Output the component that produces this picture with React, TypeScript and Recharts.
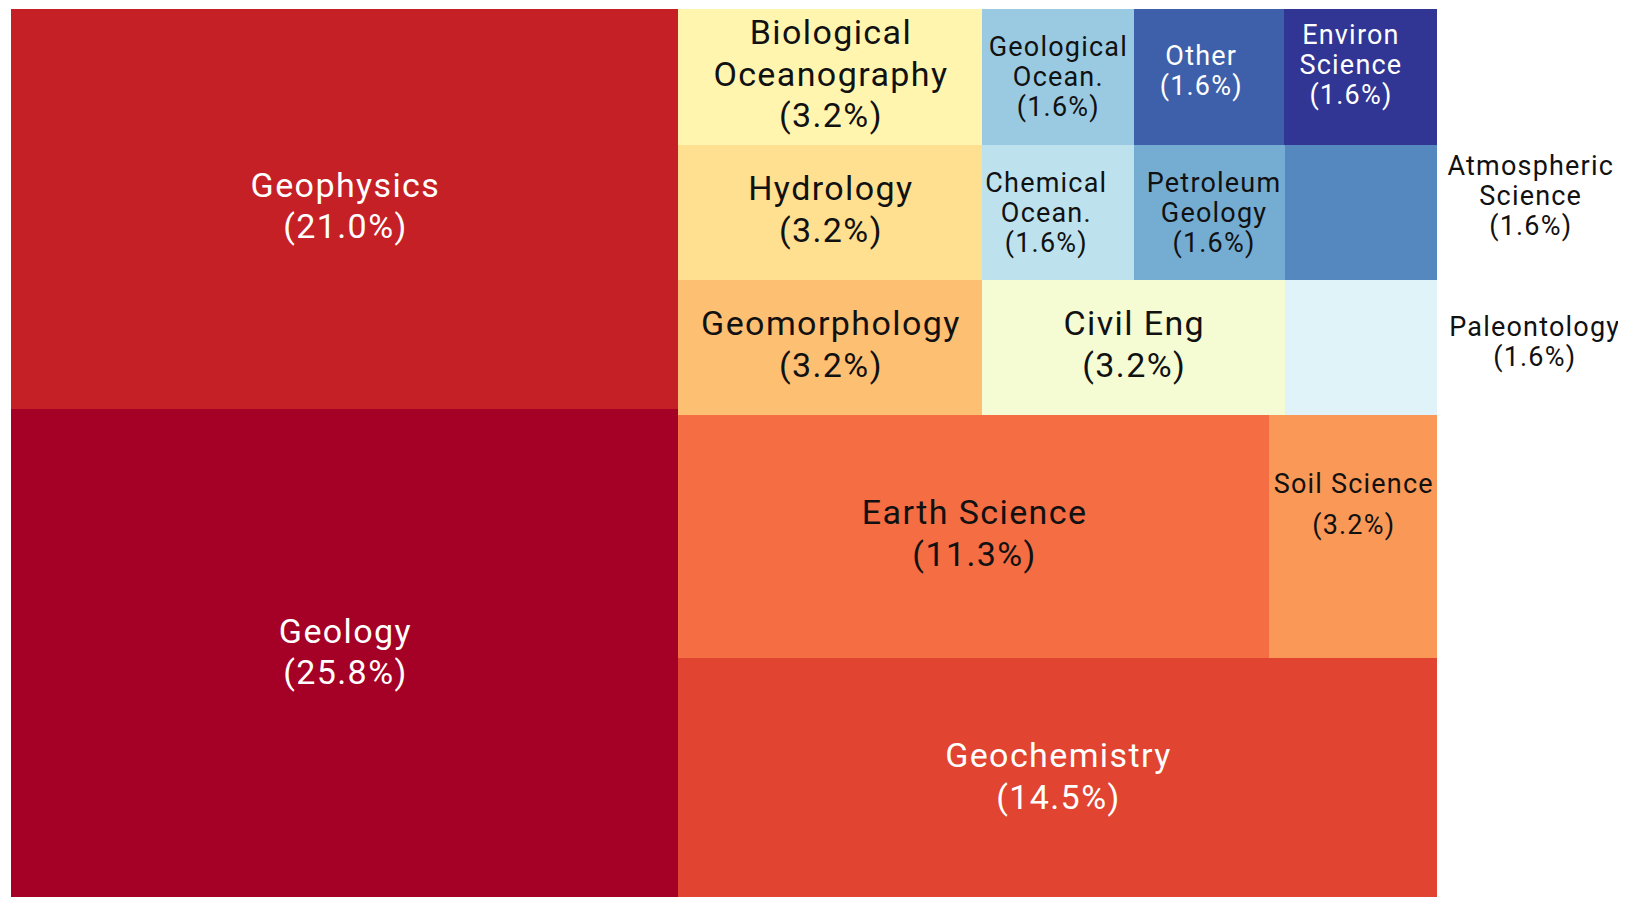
import React from 'react';
import { Treemap } from 'recharts';

// Fields of study (ordered as laid out), number of papers, and colours (RdYlBu ramp)
const names = [
  'Geology', 'Geophysics', 'Geochemistry', 'Earth Science', 'Soil Science',
  'Geomorphology', 'Hydrology', 'Biological Oceanography', 'Civil Eng', 'Paleontology',
  'Chemical Ocean.', 'Geological Ocean.', 'Petroleum Geology', 'Atmospheric Science',
  'Other', 'Environ Science',
];
const counts = [16, 13, 9, 7, 2, 2, 2, 2, 2, 1, 1, 1, 1, 1, 1, 1];
const labelLines = [
  ['Geology'], ['Geophysics'], ['Geochemistry'], ['Earth Science'], ['Soil Science'],
  ['Geomorphology'], ['Hydrology'], ['Biological', 'Oceanography'], ['Civil Eng'], ['Paleontology'],
  ['Chemical', 'Ocean.'], ['Geological', 'Ocean.'], ['Petroleum', 'Geology'], ['Atmospheric', 'Science'],
  ['Other'], ['Environ', 'Science'],
];
const colors = [
  '#a50026', '#c62027', '#e14430', '#f46d43', '#fa9857', '#fdbf71', '#fee090', '#fff5af',
  '#f5fbd2', '#e0f3f8', '#bde2ee', '#99cae1', '#74add1', '#5588be', '#3e60aa', '#313695',
];
const whiteText = ['Geology', 'Geophysics', 'Geochemistry', 'Other', 'Environ Science'];

// label nudges (px) as in the original figure
const labelNudge: Record<string, [number, number]> = {
  'Soil Science': [0, -32],
  'Atmospheric Science': [169, -17],
  'Paleontology': [173, -6],
  'Other': [-8, -6],
  'Environ Science': [-10, -12],
  'Chemical Ocean.': [-12, 0],
  'Petroleum Geology': [4, 0],
};

const total = counts.reduce((a, b) => a + b, 0);
const data = names.map((n, i) => ({
  name: n,
  size: counts[i],
  color: colors[i],
  lines: labelLines[i],
  pct: ((counts[i] / total) * 100).toFixed(1),
}));

// squarified layout computed on a (near) square, then stretched to the plot box
const LAYOUT_W = 893;
const LAYOUT_H = 892;
const PLOT_W = 1426;
const KX = PLOT_W / LAYOUT_W;

const Cell = (props: any) => {
  const { depth, x, y, width, height, name, color, lines, pct } = props;
  if (depth !== 1) return null;
  const X = x * KX;
  const Wd = width * KX;
  const Y = LAYOUT_H - y - height;
  const small = Wd < 200;
  const fs = small ? 27 : 34;
  const ls = small ? 1.2 : 1.4;
  const gap = small && height < 200 ? 30 : 41.5;
  const all = [...(lines || [name]), `(${pct}%)`];
  const nudge = labelNudge[name] || [0, 0];
  const cx = X + Wd / 2 + nudge[0] + ls / 2;
  const cy = Y + height / 2 + nudge[1] - (small ? 0 : 3.5);
  const fill = whiteText.includes(name) ? '#ffffff' : '#111111';
  return (
    <g>
      <rect x={X} y={Y} width={Wd} height={height} fill={color} stroke="none" shapeRendering="crispEdges" />
      {all.map((t, i) => (
        <text
          key={i}
          x={cx}
          y={cy + (i - (all.length - 1) / 2) * gap}
          textAnchor="middle"
          dominantBaseline="central"
          fontFamily="Roboto, sans-serif"
          fontSize={fs}
          letterSpacing={ls}
          fill={fill}
        >
          {t}
        </text>
      ))}
    </g>
  );
};

export default function App() {
  return (
    <div style={{ padding: '1px 0 0 3px' }}>
      <style>{`html,body{overflow:hidden} .recharts-surface{overflow:visible}`}</style>
      <Treemap
        width={LAYOUT_W}
        height={LAYOUT_H}
        data={data}
        dataKey="size"
        aspectRatio={1}
        isAnimationActive={false}
        content={<Cell />}
      />
    </div>
  );
}
